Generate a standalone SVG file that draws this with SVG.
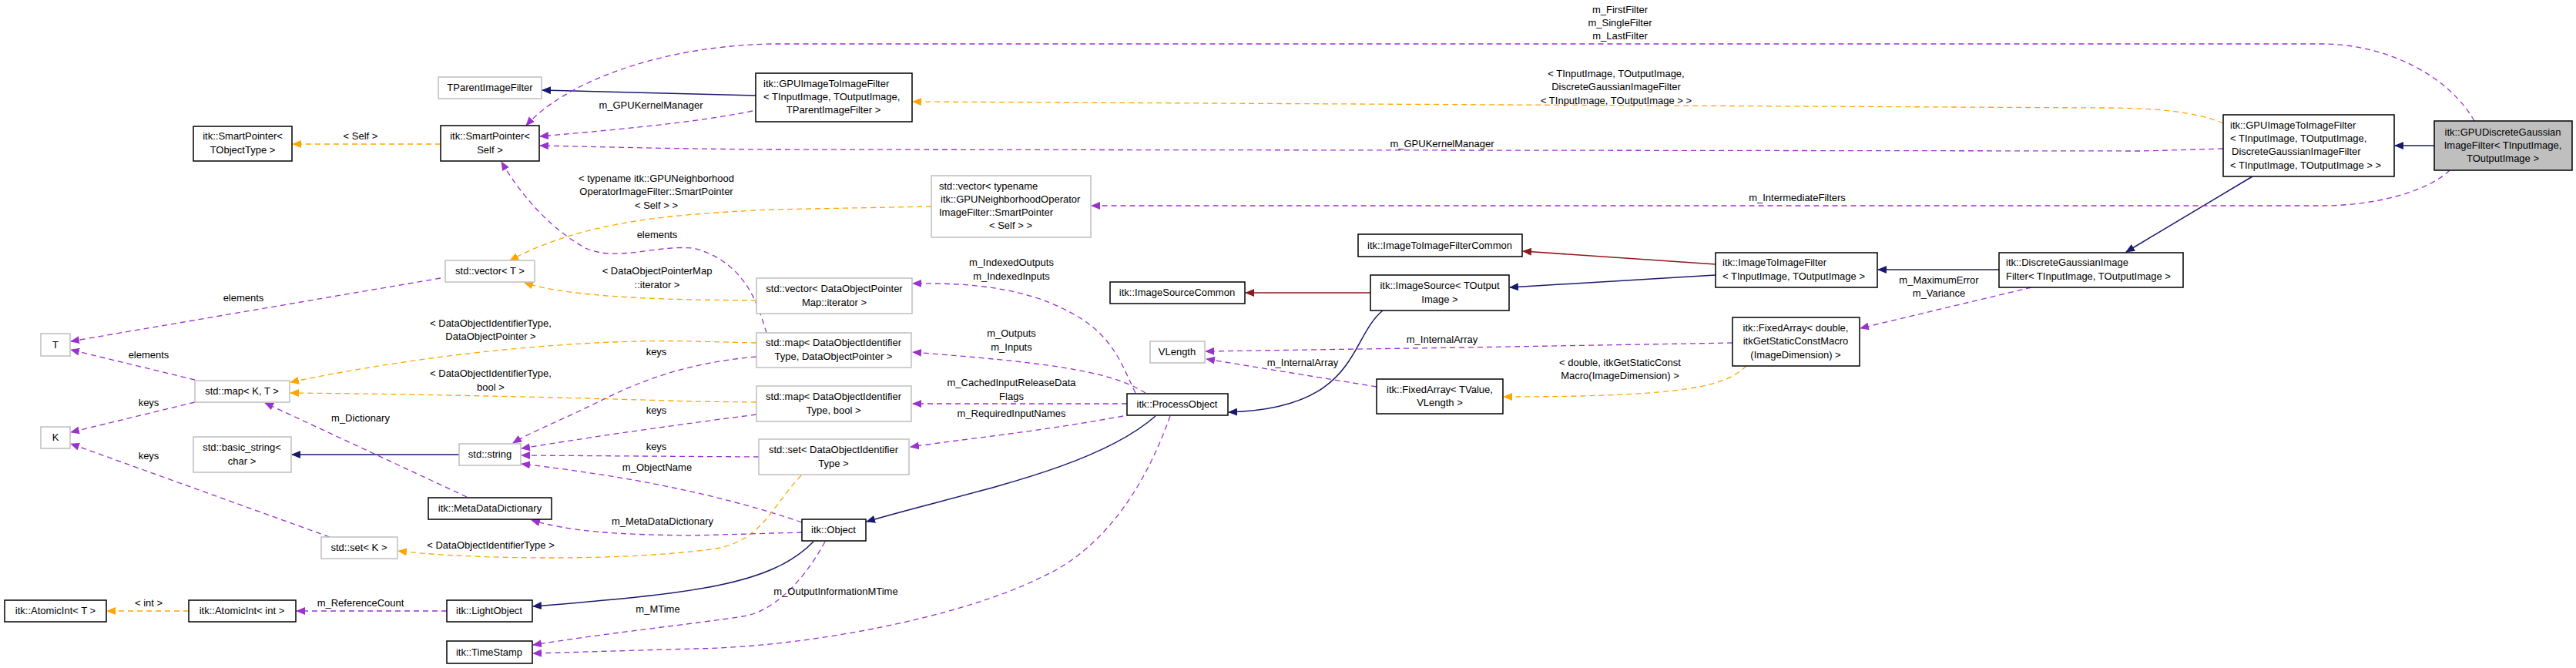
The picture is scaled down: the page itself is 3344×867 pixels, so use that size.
<svg xmlns="http://www.w3.org/2000/svg" width="3344" height="867" viewBox="0 0 3344 867">
<style>
text{font-family:"Liberation Sans",Arial,sans-serif;font-size:13px;fill:#000}
.c{text-anchor:middle}
.b{fill:#fff;stroke:#000;stroke-width:1.5}
.g{fill:#fff;stroke:#bfbfbf;stroke-width:1.5}
.h{fill:#bfbfbf;stroke:#000;stroke-width:1.5}
.nv{fill:none;stroke:#191970;stroke-width:1.5}
.rd{fill:none;stroke:#8b1a1a;stroke-width:1.5}
.pu{fill:none;stroke:#9a32cd;stroke-width:1.3;stroke-dasharray:7,5}
.or{fill:none;stroke:#ffa500;stroke-width:1.3;stroke-dasharray:7,5}
</style>
<defs>
<marker id="aN" markerWidth="12" markerHeight="10" refX="11" refY="5" orient="auto" markerUnits="userSpaceOnUse"><path d="M0,0 L12,5 L0,10 z" fill="#191970"/></marker>
<marker id="aR" markerWidth="12" markerHeight="10" refX="11" refY="5" orient="auto" markerUnits="userSpaceOnUse"><path d="M0,0 L12,5 L0,10 z" fill="#8b1a1a"/></marker>
<marker id="aP" markerWidth="12" markerHeight="10" refX="11" refY="5" orient="auto" markerUnits="userSpaceOnUse"><path d="M0,0 L12,5 L0,10 z" fill="#9a32cd"/></marker>
<marker id="aO" markerWidth="12" markerHeight="10" refX="11" refY="5" orient="auto" markerUnits="userSpaceOnUse"><path d="M0,0 L12,5 L0,10 z" fill="#ffa500"/></marker>
</defs>
<rect width="3344" height="867" fill="#fff"/>
<g id="edges">
<path class="nv" marker-end="url(#aN)" d="M3160,189 L3109,189"/>
<path class="nv" marker-end="url(#aN)" d="M2924,229 L2760,327"/>
<path class="nv" marker-end="url(#aN)" d="M2595,350 L2438,350"/>
<path class="rd" marker-end="url(#aR)" d="M2227,343 L1977,326"/>
<path class="nv" marker-end="url(#aN)" d="M2227,357 L1960,373"/>
<path class="rd" marker-end="url(#aR)" d="M1779,380 L1617,380"/>
<path class="nv" marker-end="url(#aN)" d="M1795,403 C1750,440 1765,530 1595,535"/>
<path class="nv" marker-end="url(#aN)" d="M1500,540 C1420,610 1250,640 1125,677"/>
<path class="nv" marker-end="url(#aN)" d="M1056,703 C1000,760 900,770 692,787"/>
<path class="nv" marker-end="url(#aN)" d="M596,590 L379,590"/>
<path class="nv" marker-end="url(#aN)" d="M981,124 L704,117"/>
<path class="or" marker-end="url(#aO)" d="M572,187 L380,187"/>
<path class="or" marker-end="url(#aO)" d="M2886,160 C2850,145 2800,140 2729,140 L1185,132"/>
<path class="pu" marker-end="url(#aP)" d="M3212,157 C3180,100 3100,57 3014,57 L1002,57 C850,60 730,110 683,163"/>
<path class="pu" marker-end="url(#aP)" d="M2886,193 L2780,196 L1000,194 C850,193 760,190 701,189"/>
<path class="pu" marker-end="url(#aP)" d="M977,144 C900,160 780,170 701,177"/>
<path class="pu" marker-end="url(#aP)" d="M3180,221 C3150,250 3080,267 3014,267 L1417,267"/>
<path class="or" marker-end="url(#aO)" d="M1209,268 L1000,272 C880,278 760,285 662,338"/>
<path class="pu" marker-end="url(#aP)" d="M572,361 L92,443"/>
<path class="or" marker-end="url(#aO)" d="M982,390 L900,389 C800,387 720,380 681,367"/>
<path class="pu" marker-end="url(#aP)" d="M995,432 C985,400 970,340 900,322 C850,318 800,340 760,322 C720,300 680,260 651,210"/>
<path class="or" marker-end="url(#aO)" d="M982,445 L900,443 C800,440 600,450 377,496"/>
<path class="or" marker-end="url(#aO)" d="M982,522 L900,521 C800,518 600,512 377,510"/>
<path class="pu" marker-end="url(#aP)" d="M982,463 C900,470 840,490 780,520 C730,545 690,560 666,575"/>
<path class="pu" marker-end="url(#aP)" d="M982,538 C850,555 750,570 677,582"/>
<path class="pu" marker-end="url(#aP)" d="M985,593 L677,591"/>
<path class="pu" marker-end="url(#aP)" d="M1041,678 C900,630 760,612 677,602"/>
<path class="or" marker-end="url(#aO)" d="M1040,617 C1000,660 990,700 930,712 C800,730 600,725 517,715"/>
<path class="pu" marker-end="url(#aP)" d="M253,493 L92,454"/>
<path class="pu" marker-end="url(#aP)" d="M253,522 L92,561"/>
<path class="pu" marker-end="url(#aP)" d="M428,697 L92,576"/>
<path class="pu" marker-end="url(#aP)" d="M606,645 L344,523"/>
<path class="pu" marker-end="url(#aP)" d="M1041,691 L900,695 C800,694 740,690 690,675"/>
<path class="or" marker-end="url(#aO)" d="M245,793 L139,793"/>
<path class="pu" marker-end="url(#aP)" d="M580,793 L385,793"/>
<path class="pu" marker-end="url(#aP)" d="M1071,703 C1040,760 1000,795 964,800 C900,810 800,820 692,837"/>
<path class="pu" marker-end="url(#aP)" d="M1519,540 C1480,650 1420,720 1350,750 C1250,800 1050,840 900,842 L692,848"/>
<path class="pu" marker-end="url(#aP)" d="M1474,510 C1450,460 1440,420 1347,387 C1300,372 1250,367 1185,368"/>
<path class="pu" marker-end="url(#aP)" d="M1487,510 C1440,480 1350,470 1185,457"/>
<path class="pu" marker-end="url(#aP)" d="M1463,524 L1185,524"/>
<path class="pu" marker-end="url(#aP)" d="M1458,540 C1350,560 1250,570 1182,580"/>
<path class="pu" marker-end="url(#aP)" d="M2249,445 L1900,451 L1565,456"/>
<path class="pu" marker-end="url(#aP)" d="M1787,502 L1566,466"/>
<path class="or" marker-end="url(#aO)" d="M2267,475 C2240,500 2200,515 1952,515"/>
<path class="pu" marker-end="url(#aP)" d="M2637,373 L2415,426"/>
</g>
<g id="labels">
<text class="c" x="2103" y="17">m_FirstFilter</text>
<text class="c" x="2103" y="34">m_SingleFilter</text>
<text class="c" x="2103" y="51">m_LastFilter</text>
<text class="c" x="2098" y="100">&lt; TInputImage, TOutputImage,</text>
<text class="c" x="2098" y="117">DiscreteGaussianImageFilter</text>
<text class="c" x="2098" y="135">&lt; TInputImage, TOutputImage &gt; &gt;</text>
<text class="c" x="1872" y="191">m_GPUKernelManager</text>
<text class="c" x="2333" y="261">m_IntermediateFilters</text>
<text class="c" x="2517" y="368">m_MaximumError</text>
<text class="c" x="2517" y="385">m_Variance</text>
<text class="c" x="2103" y="475">&lt; double, itkGetStaticConst</text>
<text class="c" x="2103" y="492">Macro(ImageDimension) &gt;</text>
<text class="c" x="845" y="141">m_GPUKernelManager</text>
<text class="c" x="468" y="181">&lt; Self &gt;</text>
<text class="c" x="852" y="236">&lt; typename itk::GPUNeighborhood</text>
<text class="c" x="852" y="253">OperatorImageFilter::SmartPointer</text>
<text class="c" x="852" y="271">&lt; Self &gt; &gt;</text>
<text class="c" x="853" y="309">elements</text>
<text class="c" x="853" y="356">&lt; DataObjectPointerMap</text>
<text class="c" x="853" y="374">::iterator &gt;</text>
<text class="c" x="316" y="391">elements</text>
<text class="c" x="637" y="424">&lt; DataObjectIdentifierType,</text>
<text class="c" x="637" y="441">DataObjectPointer &gt;</text>
<text class="c" x="193" y="465">elements</text>
<text class="c" x="193" y="527">keys</text>
<text class="c" x="193" y="596">keys</text>
<text class="c" x="852" y="461">keys</text>
<text class="c" x="637" y="489">&lt; DataObjectIdentifierType,</text>
<text class="c" x="637" y="507">bool &gt;</text>
<text class="c" x="468" y="547">m_Dictionary</text>
<text class="c" x="852" y="537">keys</text>
<text class="c" x="852" y="584">keys</text>
<text class="c" x="853" y="611">m_ObjectName</text>
<text class="c" x="860" y="681">m_MetaDataDictionary</text>
<text class="c" x="637" y="712">&lt; DataObjectIdentifierType &gt;</text>
<text class="c" x="193" y="787">&lt; int &gt;</text>
<text class="c" x="468" y="787">m_ReferenceCount</text>
<text class="c" x="854" y="795">m_MTime</text>
<text class="c" x="1085" y="772">m_OutputInformationMTime</text>
<text class="c" x="1313" y="345">m_IndexedOutputs</text>
<text class="c" x="1313" y="363">m_IndexedInputs</text>
<text class="c" x="1313" y="437">m_Outputs</text>
<text class="c" x="1313" y="455">m_Inputs</text>
<text class="c" x="1313" y="501">m_CachedInputReleaseData</text>
<text class="c" x="1313" y="519">Flags</text>
<text class="c" x="1313" y="541">m_RequiredInputNames</text>
<text class="c" x="1872" y="445">m_InternalArray</text>
<text class="c" x="1691" y="475">m_InternalArray</text>
</g>
<g id="n1"><rect class="h" x="3160" y="157" width="179" height="64"/><text class="c" x="3249" y="176">itk::GPUDiscreteGaussian</text><text class="c" x="3249" y="193">ImageFilter&lt; TInputImage,</text><text class="c" x="3249" y="210">TOutputImage &gt;</text></g>
<g id="n2"><rect class="b" x="2886" y="149" width="222" height="80"/><text x="2895" y="167">itk::GPUImageToImageFilter</text><text x="2895" y="184">&lt; TInputImage, TOutputImage,</text><text x="2897" y="201">DiscreteGaussianImageFilter</text><text x="2895" y="219">&lt; TInputImage, TOutputImage &gt; &gt;</text></g>
<g id="n3"><rect class="b" x="2595" y="328" width="239" height="45"/><text x="2604" y="345">itk::DiscreteGaussianImage</text><text x="2604" y="363">Filter&lt; TInputImage, TOutputImage &gt;</text></g>
<g id="n4"><rect class="b" x="2227" y="328" width="210" height="45"/><text x="2236" y="345">itk::ImageToImageFilter</text><text x="2236" y="363">&lt; TInputImage, TOutputImage &gt;</text></g>
<g id="n5"><rect class="b" x="2249" y="412" width="165" height="63"/><text class="c" x="2331" y="430">itk::FixedArray&lt; double,</text><text class="c" x="2331" y="447">itkGetStaticConstMacro</text><text class="c" x="2331" y="465">(ImageDimension) &gt;</text></g>
<g id="n6"><rect class="b" x="1763" y="304" width="213" height="29"/><text class="c" x="1869" y="323">itk::ImageToImageFilterCommon</text></g>
<g id="n7"><rect class="b" x="1779" y="357" width="180" height="46"/><text class="c" x="1869" y="375">itk::ImageSource&lt; TOutput</text><text class="c" x="1869" y="393">Image &gt;</text></g>
<g id="n8"><rect class="b" x="1441" y="366" width="175" height="28"/><text class="c" x="1528" y="384">itk::ImageSourceCommon</text></g>
<g id="n9"><rect class="g" x="1493" y="443" width="71" height="28"/><text class="c" x="1528" y="461">VLength</text></g>
<g id="n10"><rect class="b" x="1787" y="492" width="164" height="45"/><text class="c" x="1869" y="510">itk::FixedArray&lt; TValue,</text><text class="c" x="1869" y="527">VLength &gt;</text></g>
<g id="n11"><rect class="b" x="1463" y="511" width="131" height="28"/><text class="c" x="1528" y="529">itk::ProcessObject</text></g>
<g id="n12"><rect class="b" x="1041" y="674" width="83" height="28"/><text class="c" x="1082" y="692">itk::Object</text></g>
<g id="n13"><rect class="b" x="981" y="95" width="203" height="63"/><text x="991" y="113">itk::GPUImageToImageFilter</text><text x="991" y="130">&lt; TInputImage, TOutputImage,</text><text class="c" x="1082" y="147">TParentImageFilter &gt;</text></g>
<g id="n14"><rect class="g" x="1209" y="228" width="207" height="80"/><text x="1219" y="246">std::vector&lt; typename</text><text x="1221" y="263">itk::GPUNeighborhoodOperator</text><text x="1219" y="280">ImageFilter::SmartPointer</text><text class="c" x="1312" y="297">&lt; Self &gt; &gt;</text></g>
<g id="n15"><rect class="g" x="982" y="361" width="202" height="46"/><text class="c" x="1083" y="379">std::vector&lt; DataObjectPointer</text><text class="c" x="1083" y="397">Map::iterator &gt;</text></g>
<g id="n16"><rect class="g" x="982" y="432" width="201" height="45"/><text class="c" x="1082" y="449">std::map&lt; DataObjectIdentifier</text><text class="c" x="1082" y="467">Type, DataObjectPointer &gt;</text></g>
<g id="n17"><rect class="g" x="982" y="501" width="201" height="46"/><text class="c" x="1082" y="519">std::map&lt; DataObjectIdentifier</text><text class="c" x="1082" y="537">Type, bool &gt;</text></g>
<g id="n18"><rect class="g" x="985" y="570" width="195" height="46"/><text class="c" x="1082" y="588">std::set&lt; DataObjectIdentifier</text><text class="c" x="1082" y="606">Type &gt;</text></g>
<g id="n19"><rect class="g" x="569" y="100" width="134" height="28"/><text class="c" x="636" y="118">TParentImageFilter</text></g>
<g id="n20"><rect class="b" x="572" y="163" width="128" height="46"/><text class="c" x="636" y="181">itk::SmartPointer&lt;</text><text class="c" x="636" y="199">Self &gt;</text></g>
<g id="n21"><rect class="b" x="251" y="164" width="128" height="45"/><text class="c" x="315" y="181">itk::SmartPointer&lt;</text><text class="c" x="315" y="199">TObjectType &gt;</text></g>
<g id="n22"><rect class="g" x="578" y="338" width="116" height="28"/><text class="c" x="636" y="356">std::vector&lt; T &gt;</text></g>
<g id="n23"><rect class="g" x="53" y="433" width="38" height="29"/><text class="c" x="72" y="452">T</text></g>
<g id="n24"><rect class="g" x="253" y="494" width="123" height="28"/><text class="c" x="314" y="512">std::map&lt; K, T &gt;</text></g>
<g id="n25"><rect class="g" x="53" y="554" width="38" height="28"/><text class="c" x="72" y="572">K</text></g>
<g id="n26"><rect class="g" x="251" y="567" width="127" height="46"/><text class="c" x="314" y="585">std::basic_string&lt;</text><text class="c" x="314" y="603">char &gt;</text></g>
<g id="n27"><rect class="g" x="596" y="576" width="80" height="28"/><text class="c" x="636" y="594">std::string</text></g>
<g id="n28"><rect class="b" x="556" y="646" width="160" height="28"/><text class="c" x="636" y="664">itk::MetaDataDictionary</text></g>
<g id="n29"><rect class="g" x="417" y="697" width="99" height="28"/><text class="c" x="466" y="715">std::set&lt; K &gt;</text></g>
<g id="n30"><rect class="b" x="6" y="779" width="132" height="28"/><text class="c" x="72" y="797">itk::AtomicInt&lt; T &gt;</text></g>
<g id="n31"><rect class="b" x="245" y="779" width="139" height="28"/><text class="c" x="314" y="797">itk::AtomicInt&lt; int &gt;</text></g>
<g id="n32"><rect class="b" x="580" y="779" width="111" height="28"/><text class="c" x="635" y="797">itk::LightObject</text></g>
<g id="n33"><rect class="b" x="580" y="832" width="111" height="29"/><text class="c" x="635" y="851">itk::TimeStamp</text></g>
</svg>
